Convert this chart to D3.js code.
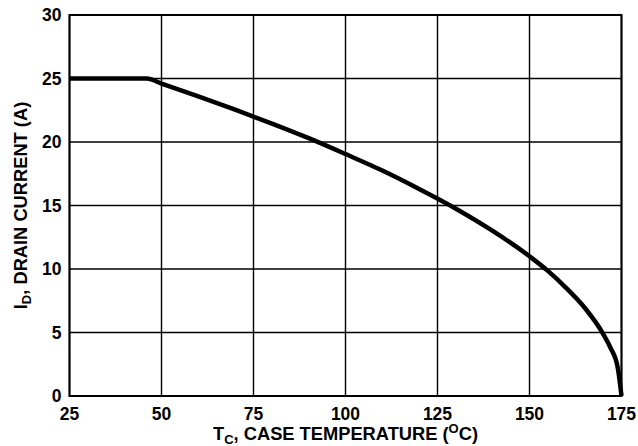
<!DOCTYPE html>
<html>
<head>
<meta charset="utf-8">
<script src="https://cdn.jsdelivr.net/npm/d3@7"></script>
<style>
  body { margin: 0; background: #fff; }
  text { font-family: "Liberation Sans", Arial, sans-serif; font-weight: bold; fill: #000; }
</style>
</head>
<body>
<div id="vis-container"></div>
<script>
// ------------------------------ DATA ------------------------------ //
const xTicks = [25, 50, 75, 100, 125, 150, 175];
const yTicks = [0, 5, 10, 15, 20, 25, 30];

// Case temperature (C) and drain current (A)
const caseTemp = [25, 46, 50, 60, 70, 80, 90, 100, 110, 120, 130, 140, 150, 155, 160, 165, 170, 172, 174, 175];
const drainCurrent = [25, 25, 24.6, 23.6, 22.55, 21.45, 20.3, 19.05, 17.75, 16.3, 14.75, 13.0, 11.0, 9.85, 8.5, 6.95, 4.9, 3.8, 2.2, 0];

// ------------------------------ SET UP ------------------------------ //
const width = 638;
const height = 446;
const margin = { top: 15, right: 16.5, bottom: 50, left: 69.5 };

const svg = d3.select("#vis-container")
  .append("svg")
  .attr("width", width)
  .attr("height", height);

const x = d3.scaleLinear()
  .domain([25, 175])
  .range([margin.left, width - margin.right]);

const y = d3.scaleLinear()
  .domain([0, 30])
  .range([height - margin.bottom, margin.top]);

// Grid lines
svg.append("g")
  .selectAll("line")
  .data(xTicks)
  .enter()
  .append("line")
  .attr("x1", d => x(d))
  .attr("x2", d => x(d))
  .attr("y1", y(0))
  .attr("y2", y(30))
  .attr("stroke", "#000")
  .attr("stroke-width", 1.4);

svg.append("g")
  .selectAll("line")
  .data(yTicks)
  .enter()
  .append("line")
  .attr("x1", x(25))
  .attr("x2", x(175))
  .attr("y1", d => y(d))
  .attr("y2", d => y(d))
  .attr("stroke", "#000")
  .attr("stroke-width", 1.4);

// Frame
svg.append("rect")
  .attr("x", x(25))
  .attr("y", y(30))
  .attr("width", x(175) - x(25))
  .attr("height", y(0) - y(30))
  .attr("fill", "none")
  .attr("stroke", "#000")
  .attr("stroke-width", 2);

// Tick labels
svg.append("g")
  .selectAll("text")
  .data(xTicks)
  .enter()
  .append("text")
  .attr("x", d => x(d))
  .attr("y", y(0) + 23.5)
  .attr("text-anchor", "middle")
  .attr("font-size", "17.5px")
  .text(d => d);

svg.append("g")
  .selectAll("text")
  .data(yTicks)
  .enter()
  .append("text")
  .attr("x", x(25) - 8)
  .attr("y", d => y(d) + 6)
  .attr("text-anchor", "end")
  .attr("font-size", "17.5px")
  .text(d => d);

// Axis titles
const xTitle = svg.append("text")
  .attr("x", (x(25) + x(175)) / 2)
  .attr("y", 440)
  .attr("text-anchor", "middle")
  .attr("font-size", "18.3px");
xTitle.append("tspan").text("T");
xTitle.append("tspan").attr("dy", 4).attr("font-size", "13px").text("C");
xTitle.append("tspan").attr("dy", -4).text(", CASE TEMPERATURE (");
xTitle.append("tspan").attr("dy", -7).attr("font-size", "13px").text("O");
xTitle.append("tspan").attr("dy", 7).text("C)");

const yTitle = svg.append("text")
  .attr("transform", `translate(27,${(y(0) + y(30)) / 2}) rotate(-90)`)
  .attr("text-anchor", "middle")
  .attr("font-size", "18.3px");
yTitle.append("tspan").text("I");
yTitle.append("tspan").attr("dy", 4).attr("font-size", "13px").text("D");
yTitle.append("tspan").attr("dy", -4).text(", DRAIN CURRENT (A)");

// Derating curve
const points = caseTemp.map((t, i) => [t, drainCurrent[i]]);

svg.append("path")
  .datum(points)
  .attr("fill", "none")
  .attr("stroke", "#000")
  .attr("stroke-width", 4.5)
  .attr("d", d3.line()
    .x(d => x(d[0]))
    .y(d => y(d[1]))
    .curve(d3.curveMonotoneX));
</script>
</body>
</html>
